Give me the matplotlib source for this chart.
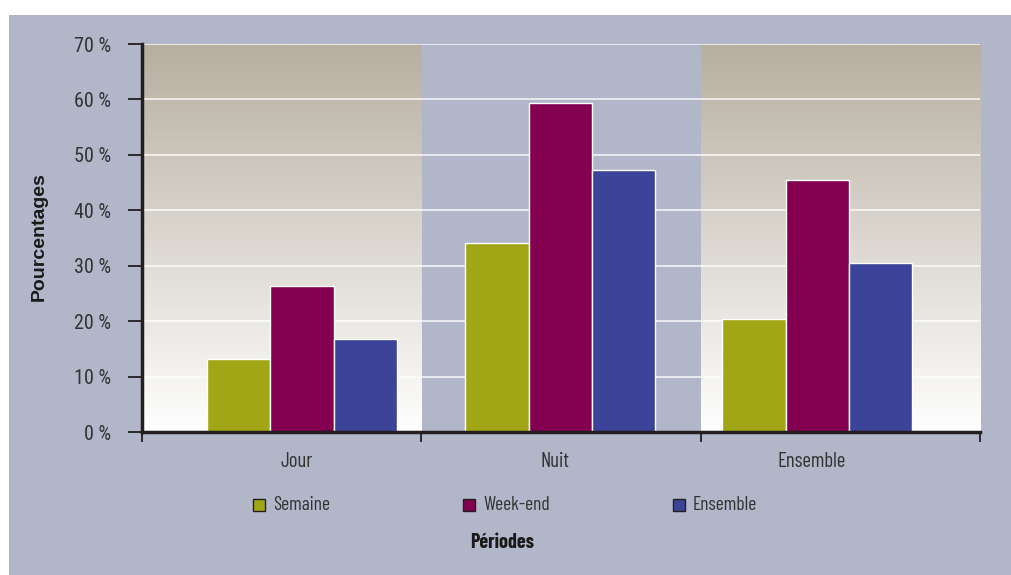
import numpy as np
import matplotlib
matplotlib.use("Agg")
import matplotlib.pyplot as plt
from matplotlib.patches import Rectangle

# Data
categories = ["Jour", "Nuit", "Ensemble"]
series = ["Semaine", "Week-end", "Ensemble"]
semaine = [13.1, 34.1, 20.4]
week_end = [26.4, 59.4, 45.5]
ensemble = [16.8, 47.2, 30.4]
y_ticks = [0, 10, 20, 30, 40, 50, 60, 70]
y_tick_labels = [f"{v} %" for v in y_ticks]

colors = ["#a0a615", "#82004f", "#3b4499"]
bg = "#b1b6c9"
tan = np.array([183, 175, 160]) / 255.0
text_col = "#333333"

cond = ["Barlow Condensed", "Roboto Condensed", "DejaVu Sans"]
tick_font = ["Roboto Condensed", "DejaVu Sans"]
wide_bold = ["Liberation Sans", "DejaVu Sans"]
plt.rcParams["font.family"] = cond

fig = plt.figure(figsize=(10.12, 5.75), dpi=100, facecolor="white")
W, H = 1012, 575
fig.patches.append(Rectangle((9 / W, 0), 1 - 9 / W, 1 - 15 / H,
                             transform=fig.transFigure, facecolor=bg,
                             edgecolor="none", zorder=-10))

ax = fig.add_axes([142 / W, 1 - 432 / H, (980 - 142) / W, (432 - 44) / H])
ax.set_facecolor(bg)
ax.set_xlim(0, 3)
ax.set_ylim(0, 70)

# Shaded bands behind the first and last period
t = np.linspace(0, 1, 256)[:, None, None]
grad = (1 - t) * np.ones(3) + t * tan
for x0 in (0, 2):
    ax.imshow(grad, extent=[x0, x0 + 1, 0, 70], origin="lower",
              aspect="auto", zorder=0, interpolation="bilinear")

for v in y_ticks[1:]:
    ax.axhline(v, color="white", lw=1.2, alpha=0.85, zorder=1)

# Bar groups
group_centers = [0.573, 1.497, 2.417]
bw = 0.226
for i, (vals, c) in enumerate(zip([semaine, week_end, ensemble], colors)):
    xs = [g + (i - 1) * bw for g in group_centers]
    ax.bar(xs, vals, width=bw, color=c, edgecolor="white", linewidth=1, zorder=3)

ax.set_xticks([0, 1, 2, 3])
ax.set_xticklabels([])
ax.tick_params(axis="x", direction="out", length=7, width=1.3, color="#231f20")
for g, lab in zip(group_centers, categories):
    ax.text(g - 0.02, -5.3, lab, ha="center", va="center", fontsize=15,
            color=text_col, transform=ax.transData)

ax.set_yticks(y_ticks)
ax.set_yticklabels(y_tick_labels, fontsize=14.5, color=text_col,
                   family=tick_font)
ax.tick_params(axis="y", direction="out", length=10, width=1.3,
               color="#231f20", pad=12)

for s in ("top", "right"):
    ax.spines[s].set_visible(False)
for s in ("left", "bottom"):
    ax.spines[s].set_color("#231f20")
    ax.spines[s].set_linewidth(2.5)
    ax.spines[s].set_zorder(5)

fig.text(39 / W, 1 - 237 / H, "Pourcentages", rotation=90, ha="center",
         va="center", fontsize=14, fontweight="bold", color="#1a1a1a",
         family=wide_bold)
fig.text(502 / W, 1 - 543 / H, "Périodes", ha="center", va="center",
         fontsize=14.5, fontweight="bold", color="#1a1a1a")

# Legend
leg_x = [253, 463, 673]
leg_y = 505
for x, lab, c in zip(leg_x, series, colors):
    fig.patches.append(Rectangle((x / W, 1 - (leg_y + 6) / H), 12 / W, 12 / H,
                                 transform=fig.transFigure, facecolor=c,
                                 edgecolor="#231f20", linewidth=1))
    fig.text((x + 20) / W, 1 - leg_y / H, lab, ha="left", va="center",
             fontsize=14, color=text_col)

fig.savefig("out.png", dpi=100, facecolor="white")
